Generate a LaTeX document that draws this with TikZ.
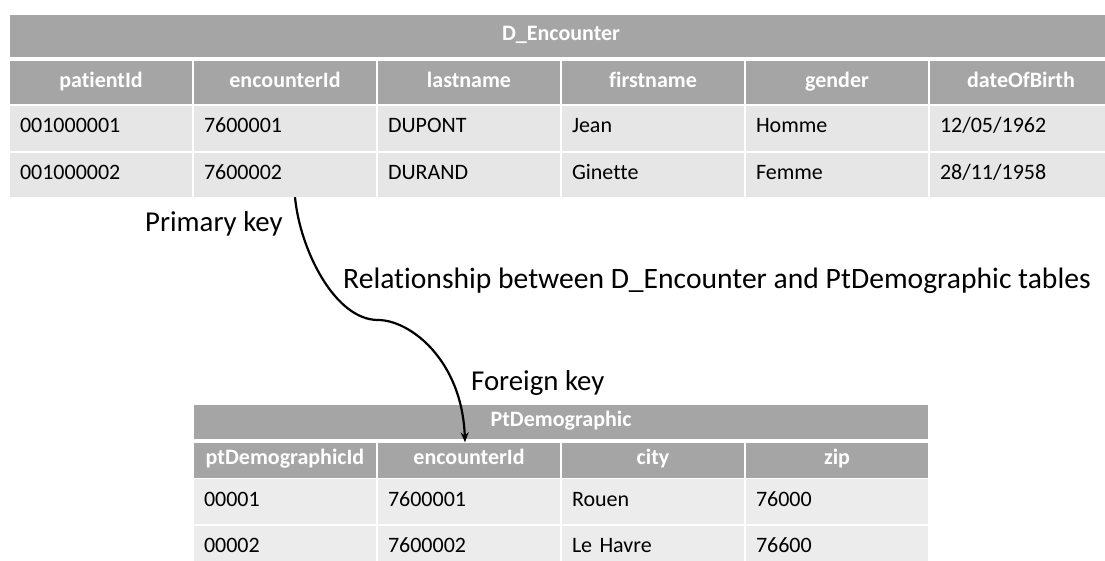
\documentclass[tikz,border=0pt]{standalone}
\usepackage{fontspec}
\setmainfont{Carlito}[Ligatures=NoCommon]
\usetikzlibrary{arrows.meta,calc}
\definecolor{hdr}{HTML}{A5A5A5}
\definecolor{rowtop}{HTML}{E6E6E6}
\definecolor{rowbot}{HTML}{ECECEC}
\tikzset{
  cellbase/.style={inner ysep=0pt, text height=15pt, text depth=6pt},
  hcell/.style={cellbase, fill=hdr, text=white, inner xsep=0pt, minimum width=182pt,
    font=\fontsize{22pt}{26pt}\selectfont\bfseries},
  dcell/.style={cellbase, inner xsep=10pt, text width=162pt, align=left,
    font=\fontsize{22pt}{26pt}\selectfont},
  dtop/.style={dcell, fill=rowtop},
  dbot/.style={dcell, fill=rowbot},
  lbl/.style={inner sep=0pt, anchor=base west, font=\fontsize{28.8pt}{32pt}\selectfont},
  conn/.style={line width=2.2pt, -{Stealth[length=10pt,width=8pt]}}
}
\begin{document}
\begin{tikzpicture}[x=1pt,y=-1pt]
\clip (0,0) rectangle (1105,561);
\fill[white] (0,0) rectangle (1105,561);
% ---------- D_Encounter ----------
\node[hcell, minimum width=1102pt, minimum height=42pt] (etitle) at (561,36.5) {D\_Encounter};
\node[hcell, minimum height=43pt] (eh0) at (101,83) {patientId};
\node[hcell, minimum height=43pt] (eh1) at (285,83) {encounterId};
\node[hcell, minimum height=43pt] (eh2) at (469,83) {lastname};
\node[hcell, minimum height=43pt] (eh3) at (653,83) {firstname};
\node[hcell, minimum height=43pt] (eh4) at (837,83) {gender};
\node[hcell, minimum height=43pt] (eh5) at (1021,83) {dateOfBirth};
% row 1
\node[dtop, minimum height=45pt] (ea0) at (101,128.5) {001000001};
\node[dtop, minimum height=45pt] (ea1) at (285,128.5) {7600001};
\node[dtop, minimum height=45pt] (ea2) at (469,128.5) {DUPONT};
\node[dtop, minimum height=45pt] (ea3) at (653,128.5) {Jean};
\node[dtop, minimum height=45pt] (ea4) at (837,128.5) {Homme};
\node[dtop, minimum height=45pt] (ea5) at (1021,128.5) {12/05/1962};
% row 2
\node[dtop, minimum height=44pt] (eb0) at (101,175) {001000002};
\node[dtop, minimum height=44pt] (eb1) at (285,175) {7600002};
\node[dtop, minimum height=44pt] (eb2) at (469,175) {DURAND};
\node[dtop, minimum height=44pt] (eb3) at (653,175) {Ginette};
\node[dtop, minimum height=44pt] (eb4) at (837,175) {Femme};
\node[dtop, minimum height=44pt] (eb5) at (1021,175) {28/11/1958};
% ---------- PtDemographic ----------
\node[hcell, minimum width=734pt, minimum height=34pt] (ptitle) at (561,421.5) {PtDemographic};
\node[hcell, minimum height=35pt] (ph0) at (285,460) {ptDemographicId};
\node[hcell, minimum height=35pt] (ph1) at (469,460) {encounterId};
\node[hcell, minimum height=35pt] (ph2) at (653,460) {city};
\node[hcell, minimum height=35pt] (ph3) at (837,460) {zip};
\node[dbot, minimum height=45pt] (pa0) at (285,501.5) {00001};
\node[dbot, minimum height=45pt] (pa1) at (469,501.5) {7600001};
\node[dbot, minimum height=45pt] (pa2) at (653,501.5) {Rouen};
\node[dbot, minimum height=45pt] (pa3) at (837,501.5) {76000};
\node[dbot, minimum height=44pt] (pb0) at (285,547.5) {00002};
\node[dbot, minimum height=44pt] (pb1) at (469,547.5) {7600002};
\node[dbot, minimum height=44pt] (pb2) at (653,547.5) {Le Havre};
\node[dbot, minimum height=44pt] (pb3) at (837,547.5) {76600};
% ---------- labels ----------
\node[lbl] (pk) at (145,232) {Primary key};
\node[lbl, font=\fontsize{29.6pt}{33pt}\selectfont] (rel) at (343,288) {Relationship between D\_Encounter and PtDemographic tables};
\node[lbl] (fk) at (471,390) {Foreign key};
% ---------- connector ----------
\coordinate (bend) at (378,320);
\draw[conn] ([xshift=10pt]eb1.south) .. controls (300,250) and (335,320) .. (bend)
  .. controls (410,320) and (462,360) .. ([xshift=-4pt]ph1.north);
\end{tikzpicture}
\end{document}
